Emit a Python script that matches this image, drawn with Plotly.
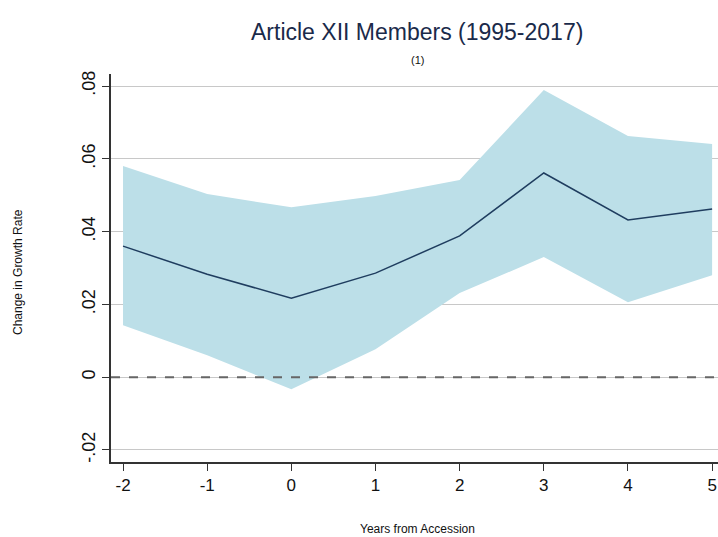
import plotly.graph_objects as go

years = [-2, -1, 0, 1, 2, 3, 4, 5]
year_labels = ["-2", "-1", "0", "1", "2", "3", "4", "5"]
estimate = [0.0360, 0.0283, 0.0217, 0.0286, 0.0388, 0.0561, 0.0432, 0.0462]
upper = [0.0580, 0.0503, 0.0467, 0.0498, 0.0542, 0.0789, 0.0663, 0.0641]
lower = [0.0143, 0.0060, -0.0033, 0.0077, 0.0231, 0.0330, 0.0206, 0.0280]
ytick_vals = [-0.02, 0, 0.02, 0.04, 0.06, 0.08]
ytick_text = ["-.02", "0", ".02", ".04", ".06", ".08"]

fig = go.Figure()
fig.add_trace(go.Scatter(x=years, y=upper, mode="lines", line=dict(width=0),
                         showlegend=False, hoverinfo="skip"))
fig.add_trace(go.Scatter(x=years, y=lower, mode="lines", line=dict(width=0),
                         fill="tonexty", fillcolor="#bcdfe8", showlegend=False, hoverinfo="skip"))
fig.add_trace(go.Scatter(x=years, y=estimate, mode="lines",
                         line=dict(color="#1f3d5f", width=1.5), showlegend=False))
fig.add_hline(y=0, line=dict(color="#666666", width=2, dash="dash"))

font = "Liberation Sans, Arial, sans-serif"
W, H = 718, 537
L, R, T, B = 111, 0, 74, 75
pw, ph = W - L - R, H - T - B

def px(xp):
    return (xp - L) / pw

def py(yp):
    return (H - B - yp) / ph

fig.update_layout(
    width=W, height=H,
    paper_bgcolor="white", plot_bgcolor="white",
    margin=dict(l=L, r=R, t=T, b=B, autoexpand=False),
    font=dict(family=font, color="#111111"),
    annotations=[
        dict(text="Article XII Members (1995-2017)", xref="paper", yref="paper",
             x=px(417), y=py(32), showarrow=False, xanchor="center", yanchor="middle",
             font=dict(size=23, color="#1a2a4a")),
        dict(text="(1)", xref="paper", yref="paper", x=px(417), y=py(60),
             showarrow=False, xanchor="center", yanchor="middle",
             font=dict(size=11, color="#111111")),
        dict(text="Years from Accession", xref="paper", yref="paper", x=px(417), y=py(529),
             showarrow=False, xanchor="center", yanchor="middle",
             font=dict(size=12, color="#111111")),
        dict(text="Change in Growth Rate", xref="paper", yref="paper", x=px(18), y=py(272),
             showarrow=False, xanchor="center", yanchor="middle", textangle=-90,
             font=dict(size=12, color="#111111")),
    ],
    xaxis=dict(range=[-2.143, 5.07], tickvals=years, ticktext=year_labels,
               ticks="outside", ticklen=7, automargin=False,
               tickcolor="#333333", showline=True, linecolor="#333333", linewidth=1.5,
               showgrid=False, zeroline=False, tickfont=dict(size=17)),
    yaxis=dict(range=[-0.0233, 0.0833], tickvals=ytick_vals, ticktext=ytick_text,
               tickangle=-90, ticks="outside", ticklen=7, tickcolor="#333333",
               showline=True, linecolor="#333333", linewidth=1.5, automargin=False,
               showgrid=True, gridcolor="#c8c8c8", gridwidth=1.2, zeroline=False,
               tickfont=dict(size=18)),
)
fig.write_html("out.html", config={"displayModeBar": False},
               post_script="document.body.style.margin='0';")
